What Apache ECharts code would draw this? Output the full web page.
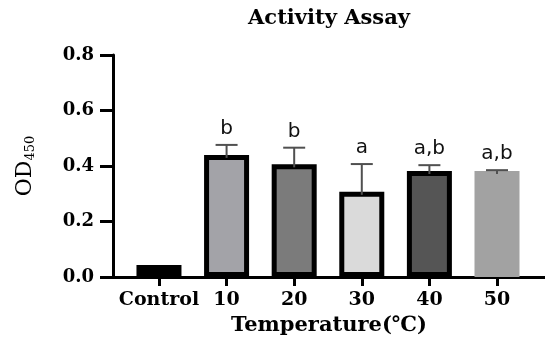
<!DOCTYPE html>
<html>
<head>
<meta charset="utf-8">
<script src="https://cdn.jsdelivr.net/npm/echarts@6/dist/echarts.min.js"></script>
<style>
  html, body { margin: 0; padding: 0; background: #fff; }
  #chart { width: 545px; height: 337px; }
</style>
</head>
<body>
<div id="chart"></div>
<script>
const categories = ['Control', '10', '20', '30', '40', '50'];
const means = [0.043, 0.44, 0.406, 0.307, 0.382, 0.382];
const errors = [0, 0.036, 0.06, 0.10, 0.021, 0.003];
const letters = ['', 'b', 'b', 'a', 'a,b', 'a,b'];
const fills = ['#000000', '#a3a3a8', '#7b7b7b', '#dadada', '#555555', '#a2a2a2'];
const yTicks = [0, 0.2, 0.4, 0.6, 0.8];

const serif = 'DejaVu Serif';
const chart = echarts.init(document.getElementById('chart'));

const barData = means.map((v, i) => ({
  value: [i, v],
  itemStyle: {
    color: fills[i],
    borderColor: i === 5 ? fills[i] : '#000',
    borderWidth: 5
  }
}));

// error bar (upper half only) + significance letters
const errData = means.map((v, i) => [i, v, errors[i]]);

function renderErr(params, api) {
  const i = api.value(0);
  const mean = api.value(1);
  const err = api.value(2);
  const base = api.coord([i, mean]);
  const top = api.coord([i, mean + err]);
  const children = [];
  if (err > 0) {
    children.push({
      type: 'line',
      shape: { x1: top[0], y1: base[1] + 3, x2: top[0], y2: top[1] },
      style: { stroke: '#505050', lineWidth: 2 }
    });
    children.push({
      type: 'line',
      shape: { x1: top[0] - 11, y1: top[1], x2: top[0] + 11, y2: top[1] },
      style: { stroke: '#505050', lineWidth: 2 }
    });
  }
  if (letters[params.dataIndex]) {
    children.push({
      type: 'text',
      style: {
        x: top[0], y: top[1] - 6,
        text: letters[params.dataIndex],
        align: 'center', verticalAlign: 'bottom',
        font: '20px "DejaVu Sans"', fill: '#111'
      }
    });
  }
  return { type: 'group', children };
}

chart.setOption({
  animation: false,
  title: {
    text: 'Activity Assay',
    left: 329, top: 8, textAlign: 'center', padding: 0,
    textStyle: { fontFamily: serif, fontWeight: 'bold', fontSize: 21, color: '#000' }
  },
  grid: { left: 113, right: 0, top: 55, bottom: 60, containLabel: false, outerBoundsMode: 'none' },
  xAxis: {
    type: 'value',
    min: -0.68, max: 5.71,
    name: 'Temperature(℃)',
    nameLocation: 'middle', nameGap: 37,
    nameTextStyle: { fontFamily: serif, fontWeight: 'bold', fontSize: 21, color: '#000' },
    axisLine: { onZero: false, lineStyle: { color: '#000', width: 3 } },
    axisTick: { customValues: [0, 1, 2, 3, 4, 5], length: 9, lineStyle: { color: '#000', width: 3 } },
    axisLabel: {
      customValues: [0, 1, 2, 3, 4, 5],
      formatter: (v) => categories[Math.round(v)],
      margin: 14,
      fontFamily: serif, fontWeight: 'bold', fontSize: 19, color: '#000'
    },
    splitLine: { show: false }
  },
  yAxis: {
    type: 'value',
    min: yTicks[0], max: yTicks[yTicks.length - 1], interval: 0.2,
    name: '{m|OD}{s|450}',
    nameLocation: 'middle', nameGap: 76,
    nameTextStyle: {
      rich: {
        m: { fontFamily: serif, fontSize: 22, color: '#000' },
        s: { fontFamily: serif, fontSize: 13, color: '#000', verticalAlign: 'bottom', padding: [10, 0, 0, 0] }
      }
    },
    axisLine: { show: true, onZero: false, lineStyle: { color: '#000', width: 3 } },
    axisTick: { show: true, length: 13, lineStyle: { color: '#000', width: 3 } },
    axisLabel: {
      margin: 19,
      formatter: (v) => v.toFixed(1),
      fontFamily: serif, fontWeight: 'bold', fontSize: 18, color: '#000'
    },
    splitLine: { show: false }
  },
  series: [
    {
      type: 'bar',
      barWidth: 45,
      data: barData,
      z: 2
    },
    {
      type: 'custom',
      renderItem: renderErr,
      data: errData,
      z: 3
    }
  ]
});
</script>
</body>
</html>
